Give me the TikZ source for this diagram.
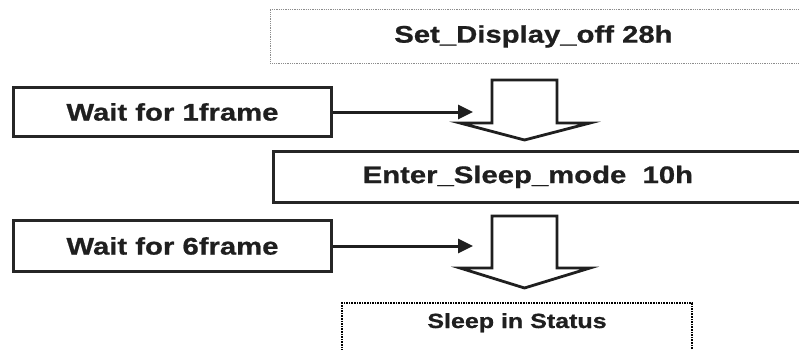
\documentclass[tikz,border=0pt]{standalone}
\usepackage{fontspec}
\newfontfamily\diagfont[FakeStretch=1.22,BoldFeatures={FakeBold=0.8}]{Liberation Sans}
\usetikzlibrary{arrows.meta}

\tikzset{
  cmdbox/.style={draw=black!85,line width=2.8pt,anchor=north west,inner sep=0pt,
    font=\diagfont\bfseries\fontsize{24}{24}\selectfont,text=black!88},
  waitbox/.style={cmdbox,line width=3pt},
  softbox/.style={cmdbox,draw=black!45,line width=0.9pt,dash pattern=on 1pt off 0.8pt},
  statebox/.style={draw=black,line width=2pt,dash pattern=on 1.6pt off 1pt,
    anchor=north,inner sep=8pt,minimum width=350pt,text height=17pt,text depth=45pt,
    font=\diagfont\bfseries\fontsize{20.5}{20.5}\selectfont,text=black!88},
  wire/.style={line width=3pt,black!88,-{Triangle[length=15pt,width=14pt]}},
  blockline/.style={draw=black!88,fill=white,line width=2.8pt,line join=miter},
  pics/blockdown/.style 2 args={code={
    \draw[blockline] (-32.5,0) -- (32.5,0) -- (32.5,#1) -- (65.5,#1)
      -- (0,#1+#2) -- (-64.5,#1) -- (-32.5,#1) -- cycle;}}
}

\begin{document}
\begin{tikzpicture}[x=1pt,y=-1pt]
  \useasboundingbox[fill=white] (0,0) rectangle (799,350);

  % commands
  \node[softbox,minimum width=535pt,minimum height=54pt] (setoff) at (270,9)
    {Set\_Display\_off 28h\hspace*{9pt}};
  \node[cmdbox,minimum width=535pt,minimum height=51pt] (enter) at (272,150)
    {Enter\_Sleep\_mode\ \ 10h\hspace*{26pt}};

  % delays
  \node[waitbox,minimum width=318pt,minimum height=49pt] (wait1) at (12,86) {Wait for 1frame};
  \node[waitbox,minimum width=318pt,minimum height=51pt] (wait6) at (12,219) {Wait for 6frame};

  % final state
  \node[statebox] (sleep) at (517,302) {Sleep in Status};

  % flow
  \pic at (524.5,80) {blockdown={43}{17}};
  \pic at (524.5,216) {blockdown={52}{20}};
  \coordinate (tip1) at (473,108);
  \coordinate (tip6) at (473,242);
  \draw[wire] (wait1.east) -- (wait1.east -| tip1);
  \draw[wire] (wait6.east) -- (wait6.east -| tip6);
\end{tikzpicture}
\end{document}
